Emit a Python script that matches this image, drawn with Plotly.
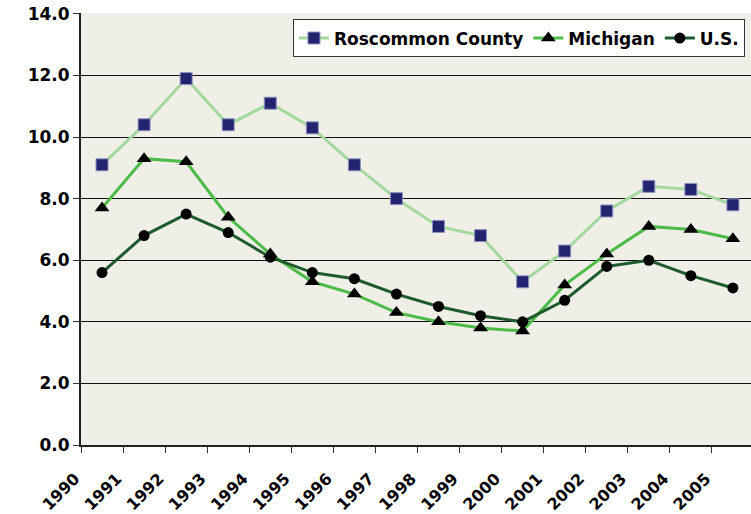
import plotly.graph_objects as go

years = [str(y) for y in range(1990, 2006)]
roscommon = [9.1, 10.4, 11.9, 10.4, 11.1, 10.3, 9.1, 8.0, 7.1, 6.8, 5.3, 6.3, 7.6, 8.4, 8.3, 7.8]
michigan = [7.7, 9.3, 9.2, 7.4, 6.2, 5.3, 4.9, 4.3, 4.0, 3.8, 3.7, 5.2, 6.2, 7.1, 7.0, 6.7]
us = [5.6, 6.8, 7.5, 6.9, 6.1, 5.6, 5.4, 4.9, 4.5, 4.2, 4.0, 4.7, 5.8, 6.0, 5.5, 5.1]
y_ticks = [0, 2, 4, 6, 8, 10, 12, 14]

FONT = "DejaVu Sans"

fig = go.Figure()
fig.add_trace(go.Scatter(
    x=years, y=roscommon, name="Roscommon County", mode="lines+markers",
    line=dict(color="#a3d99c", width=3),
    marker=dict(symbol="square", size=12, color="#222470", line=dict(color="#8f92c0", width=1)),
))
fig.add_trace(go.Scatter(
    x=years, y=michigan, name="Michigan", mode="lines+markers",
    line=dict(color="#4cbb47", width=3),
    marker=dict(symbol="triangle-up", size=13, color="#000000"),
))
fig.add_trace(go.Scatter(
    x=years, y=us, name="U.S.", mode="lines+markers",
    line=dict(color="#1d5a2c", width=3),
    marker=dict(symbol="circle", size=11, color="#000000"),
))

fig.update_layout(
    width=751, height=514,
    margin=dict(l=81, r=0, t=13, b=69, autoexpand=False),
    paper_bgcolor="#ffffff",
    plot_bgcolor="#f0efe7",
    font=dict(family=FONT, color="#000000"),
    showlegend=True,
    legend=dict(
        orientation="h", x=0.991, xanchor="right", y=0.985, yanchor="top",
        bgcolor="#ffffff", bordercolor="#333333", borderwidth=1,
        font=dict(family=FONT, size=17, color="#000000", weight="bold"),
        itemwidth=30, tracegroupgap=0,
    ),
)
fig.update_xaxes(
    type="category", range=[-0.5, 15.43], automargin=False,
    tickangle=-45, tickson="boundaries", ticks="outside", ticklen=6, tickcolor="#333333",
    ticklabelshift=-27, ticklabelstandoff=16,
    showline=True, linecolor="#222222", linewidth=2,
    showgrid=False,
    tickfont=dict(family=FONT, size=16, color="#000000", weight="bold"),
)
fig.update_yaxes(
    range=[0, 14.03], tickvals=y_ticks, tickformat=".1f", automargin=False,
    ticks="outside", ticklen=6, tickcolor="#333333",
    showline=True, linecolor="#222222", linewidth=2,
    showgrid=True, gridcolor="#111111", gridwidth=1,
    zeroline=False,
    tickfont=dict(family=FONT, size=17, color="#000000", weight="bold"),
)

# remove the default 8px page margin so the figure sits at the window's origin
fig.write_html("out.html", config={"displayModeBar": False},
               post_script="document.body.style.margin='0';")
